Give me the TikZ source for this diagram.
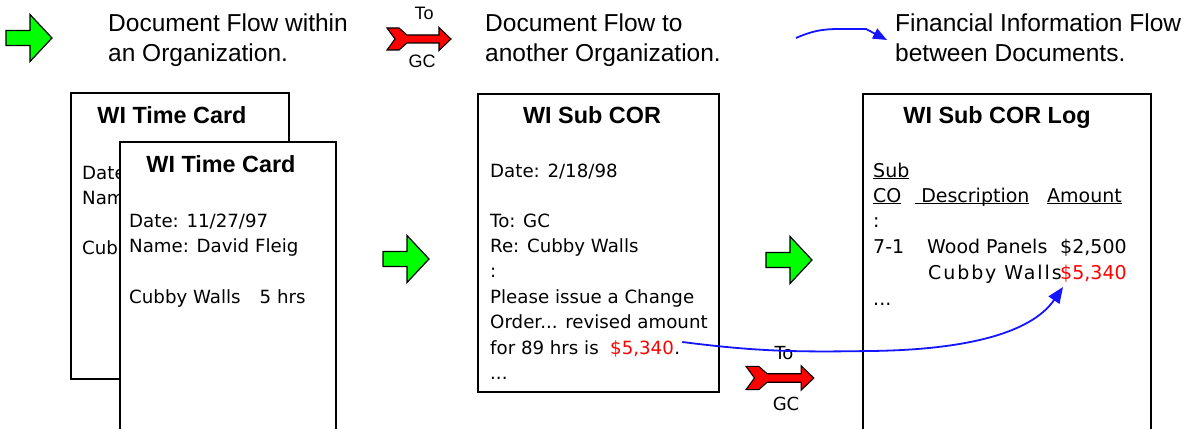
\documentclass[tikz,border=0pt]{standalone}
\usepackage{fontspec}
\setmainfont{Liberation Sans}
\newfontfamily\docfont{DejaVu Sans}
\usetikzlibrary{calc,arrows.meta}
\definecolor{flowgreen}{RGB}{0,255,0}
\definecolor{flowred}{RGB}{255,0,0}
\definecolor{finblue}{RGB}{20,20,255}
\newcommand{\logul}[1]{\underline{\smash{#1}}}

\begin{document}
\begin{tikzpicture}[x=1pt,y=-1pt,
  legendtext/.style={anchor=base west,inner sep=0pt,font=\fontsize{24.5pt}{29pt}\selectfont},
  doctitle/.style={anchor=base,inner sep=0pt,font=\fontsize{23.4pt}{28pt}\selectfont\bfseries},
  doctext/.style={anchor=base west,inner sep=0pt,font=\docfont\fontsize{18.2pt}{25pt}\selectfont},
  logtext/.style={doctext,font=\docfont\fontsize{19pt}{26pt}\selectfont},
  gclabel/.style={anchor=base,inner sep=0pt,font=\fontsize{18pt}{20pt}\selectfont},
  docbox/.style={draw,line width=1.6pt,fill=white,anchor=north west,inner sep=0pt},
  docflow/.style={draw=black,line width=1.2pt,fill=flowgreen},
  orgflow/.style={draw=black,line width=1.1pt,fill=flowred},
  finflow/.style={-{Triangle[length=16pt,width=13pt]},finblue,line width=1.8pt}]
  % page, y runs downwards in pixels
  \path[use as bounding box,fill=white] (0,0) rectangle (1185,428);

  % legend
  \node[legendtext] (legInA) at (108,32) {Document Flow within};
  \node[legendtext] (legInB) at (108,61) {an Organization.};
  \node[gclabel] (legTo) at (424,20) {To};
  \node[gclabel] (legGC) at (422,67) {GC};
  \node[legendtext] (legOutA) at (485,32) {Document Flow to};
  \node[legendtext] (legOutB) at (485,61) {another Organization.};
  \node[legendtext] (legFinA) at (895,32) {Financial Information Flow};
  \node[legendtext] (legFinB) at (895,61) {between Documents.};
  \coordinate (finStart) at (796,38);
  \coordinate (finEnd) at (887,40);
  \draw[finflow,-{Triangle[length=14pt,width=11pt]}] (finStart)
    .. controls (812,31) and (822,29) .. (840,29) -- (866,29) -- (finEnd);

  % green arrows: flow within an organization
  \foreach \ax/\ay in {29/38,406/259,789/260}
    \draw[docflow,shift={(\ax,\ay)}] (-23,-7.5) -- (1,-7.5) -- (1,-23.5) -- (23,0)
      -- (1,23.5) -- (1,7.5) -- (-23,7.5) -- cycle;

  % red arrows: flow to another organization
  \foreach \rx/\ry/\rs in {387/39/1,746/378/1.06}
    \draw[orgflow,shift={(\rx,\ry)},scale=\rs] (0,-11) -- (12,-11) -- (20,-4) -- (52,-4)
      -- (52,-11.5) -- (64,0) -- (52,11.5) -- (52,4) -- (20,4) -- (12,11) -- (0,11)
      -- (8,0) -- cycle;
  \node[gclabel,font=\docfont\fontsize{18pt}{20pt}\selectfont] (midTo) at (784,359) {To};
  \node[gclabel,font=\docfont\fontsize{18pt}{20pt}\selectfont] (midGC) at (786,410) {GC};

  % time cards (only the left edge of the back card's lines shows)
  \node[docbox,minimum width=218pt,minimum height=286pt] (cardBack) at (70,92) {};
  \node[doctitle] (backTitle) at (172,123) {WI Time Card};
  \node[doctext] (backDate) at (82,179) {Date};
  \node[doctext] (backName) at (82,204) {Nam};
  \node[doctext] (backJob) at (82,254) {Cub};
  \node[docbox,minimum width=216pt,minimum height=300pt] (cardFront) at (119,141) {};
  \node[doctitle] (frontTitle) at (221,172) {WI Time Card};
  \node[doctext] (frontDate) at (129,227) {Date: 11/27/97};
  \node[doctext] (frontName) at (129,252) {Name: David Fleig};
  \node[doctext] (frontJob) at (129,303) {Cubby Walls\hspace{19pt}5 hrs};

  % sub change order request
  \node[docbox,minimum width=241pt,minimum height=298pt] (subCor) at (477,93) {};
  \node[doctitle] (corTitle) at (592,123) {WI Sub COR};
  \node[doctext] (corDate) at (490,177) {Date: 2/18/98};
  \node[doctext] (corTo) at (490,227) {To: GC};
  \node[doctext] (corRe) at (490,252) {Re: Cubby Walls};
  \node[doctext] (corColon) at (490,277) {:};
  \node[doctext] (corLineA) at (490,303) {Please issue a Change};
  \node[doctext] (corLineB) at (490,328) {Order... revised amount};
  \node[doctext] (corLineC) at (490,354) {for 89 hrs is};
  \node[doctext,text=flowred] (corAmt) at (610,354) {\$5,340};
  \node[doctext] (corDot) at (corAmt.base east) {.};
  \node[doctext] (corMore) at (490,379) {...};

  % sub change order log
  \node[docbox,minimum width=288pt,minimum height=345pt] (corLog) at (862,93) {};
  \node[doctitle] (logTitle) at (997,123) {WI Sub COR Log};
  \node[logtext] (logSub) at (873,177) {\logul{Sub}};
  \node[logtext] (logCO) at (873,202) {\logul{CO}};
  \node[logtext] (logDesc) at (915,202) {\logul{\ Description}};
  \node[logtext] (logAmount) at (1047,202) {\logul{Amount}};
  \node[logtext] (logColon) at (873,227) {:};
  \node[logtext] (logNum) at (873,253) {7-1};
  \node[logtext] (logWood) at (927,253) {Wood Panels};
  \node[logtext] (logWoodAmt) at (1060,253) {\$2,500};
  \node[logtext] (logCubby) at (928,279) {\addfontfeature{LetterSpace=10}Cubby Walls};
  \node[logtext,text=flowred] (logAmt) at (1060,279) {\$5,340};
  \node[logtext] (logMore) at (873,305) {...};

  % financial information carried from the request into the log
  \draw[finflow] ($(corDot.east |- corAmt.north)+(2,2)$)
    .. controls (760,352) and (800,352) .. (870,351)
    .. controls (960,350) and (1030,335) .. ($(logAmt.south west)+(3,5)$);
\end{tikzpicture}
\end{document}
